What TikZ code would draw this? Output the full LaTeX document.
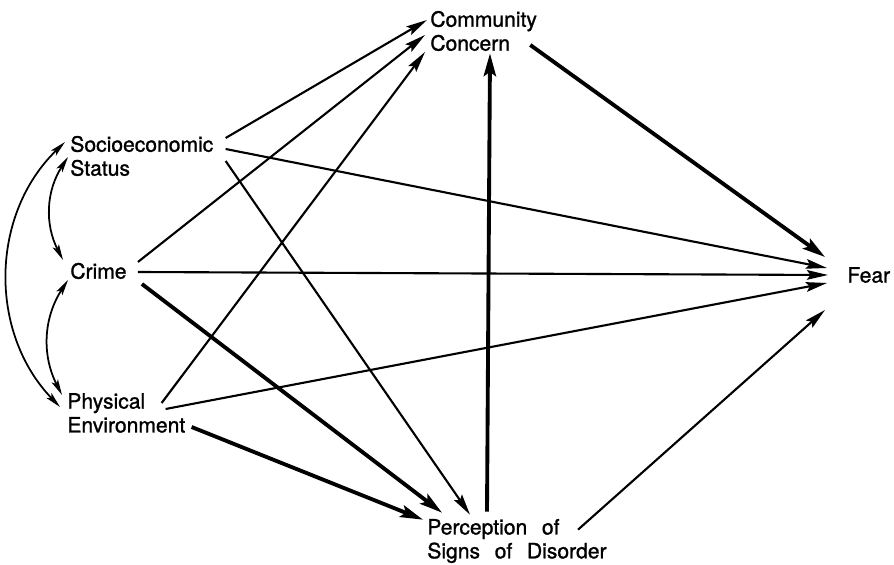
\documentclass[tikz,border=0pt]{standalone}
\usepackage{fontspec}
\setmainfont{TeX Gyre Heros}[WordSpace=2.5, FakeBold=1.2]
\usetikzlibrary{arrows.meta}
\tikzstyle{var} = [inner sep=0pt, align=left, anchor=west, font=\fontsize{12}{13.6}\selectfont]
\tikzstyle{arrow} = [line width=1.2pt,-{Stealth[length=12pt,width=5.5pt,inset=2pt]}]
\tikzstyle{strong} = [line width=2.2pt,-{Stealth[length=13pt,width=7pt,inset=2.5pt]}]
\tikzstyle{corr} = [line width=1pt,{Stealth[length=9pt,width=4pt,inset=2pt]}-{Stealth[length=9pt,width=4pt,inset=2pt]}]

\begin{document}
\begin{tikzpicture}[x=0.02cm, y=0.02cm]
\useasboundingbox (0,0) rectangle (894,565);

\node (ses) [var] at (70,409) {Socioeconomic\\Status};
\node (crime) [var] at (70,294) {Crime};
\node (env) [var] at (67,152) {Physical\\Environment};
\node (concern) [var] at (430,534) {Community\\Concern};
\node (disorder) [var] at (427,24) {Perception of\\Signs of Disorder};
\node (fear) [var] at (847,290) {Fear};

% exogenous variables
\draw [corr] ([shift={(-2,-1)}]ses.west) to[bend right=30] ([shift={(-7,11)}]crime.west);
\draw [corr] ([shift={(-2,-9)}]crime.west) to[bend right=30] ([shift={(-5,18)}]env.west);
\draw [corr] ([shift={(-5,14)}]ses.west) to[bend right=45] ([shift={(-7,6)}]env.west);

\draw [arrow] ([shift={(12,18)}]ses.east) -- ([shift={(-3,11)}]concern.west);
\draw [arrow] ([shift={(12,7)}]ses.east) -- ([shift={(-20,7)}]fear.west);
\draw [arrow] ([shift={(12,-5)}]ses.east) -- ([shift={(43,4)}]disorder.north west);

\draw [arrow] ([shift={(11,9)}]crime.east) -- ([shift={(-5,-4)}]concern.west);
\draw [arrow] ([shift={(11,-1)}]crime.east) -- ([shift={(-19,0)}]fear.west);
\draw [strong] ([shift={(15,-13)}]crime.east) -- ([shift={(15,6)}]disorder.north west);

\draw [arrow] ([shift={(-24,10)}]env.east) -- ([shift={(-5,-21)}]concern.west);
\draw [arrow] ([shift={(-20,4)}]env.east) -- ([shift={(-20,-8)}]fear.west);
\draw [strong] ([shift={(6,-14)}]env.east) -- ([shift={(-4,-1)}]disorder.north west);

% mediators
\draw [strong] ([shift={(60,7)}]disorder.north west) -- ([shift={(60,-2)}]concern.south west);
\draw [strong] ([shift={(-7,-14)}]concern.east) -- ([shift={(-22,18)}]fear.west);
\draw [arrow] ([shift={(151,-11)}]disorder.north west) -- ([shift={(-22,-35)}]fear.west);

\end{tikzpicture}
\end{document}
